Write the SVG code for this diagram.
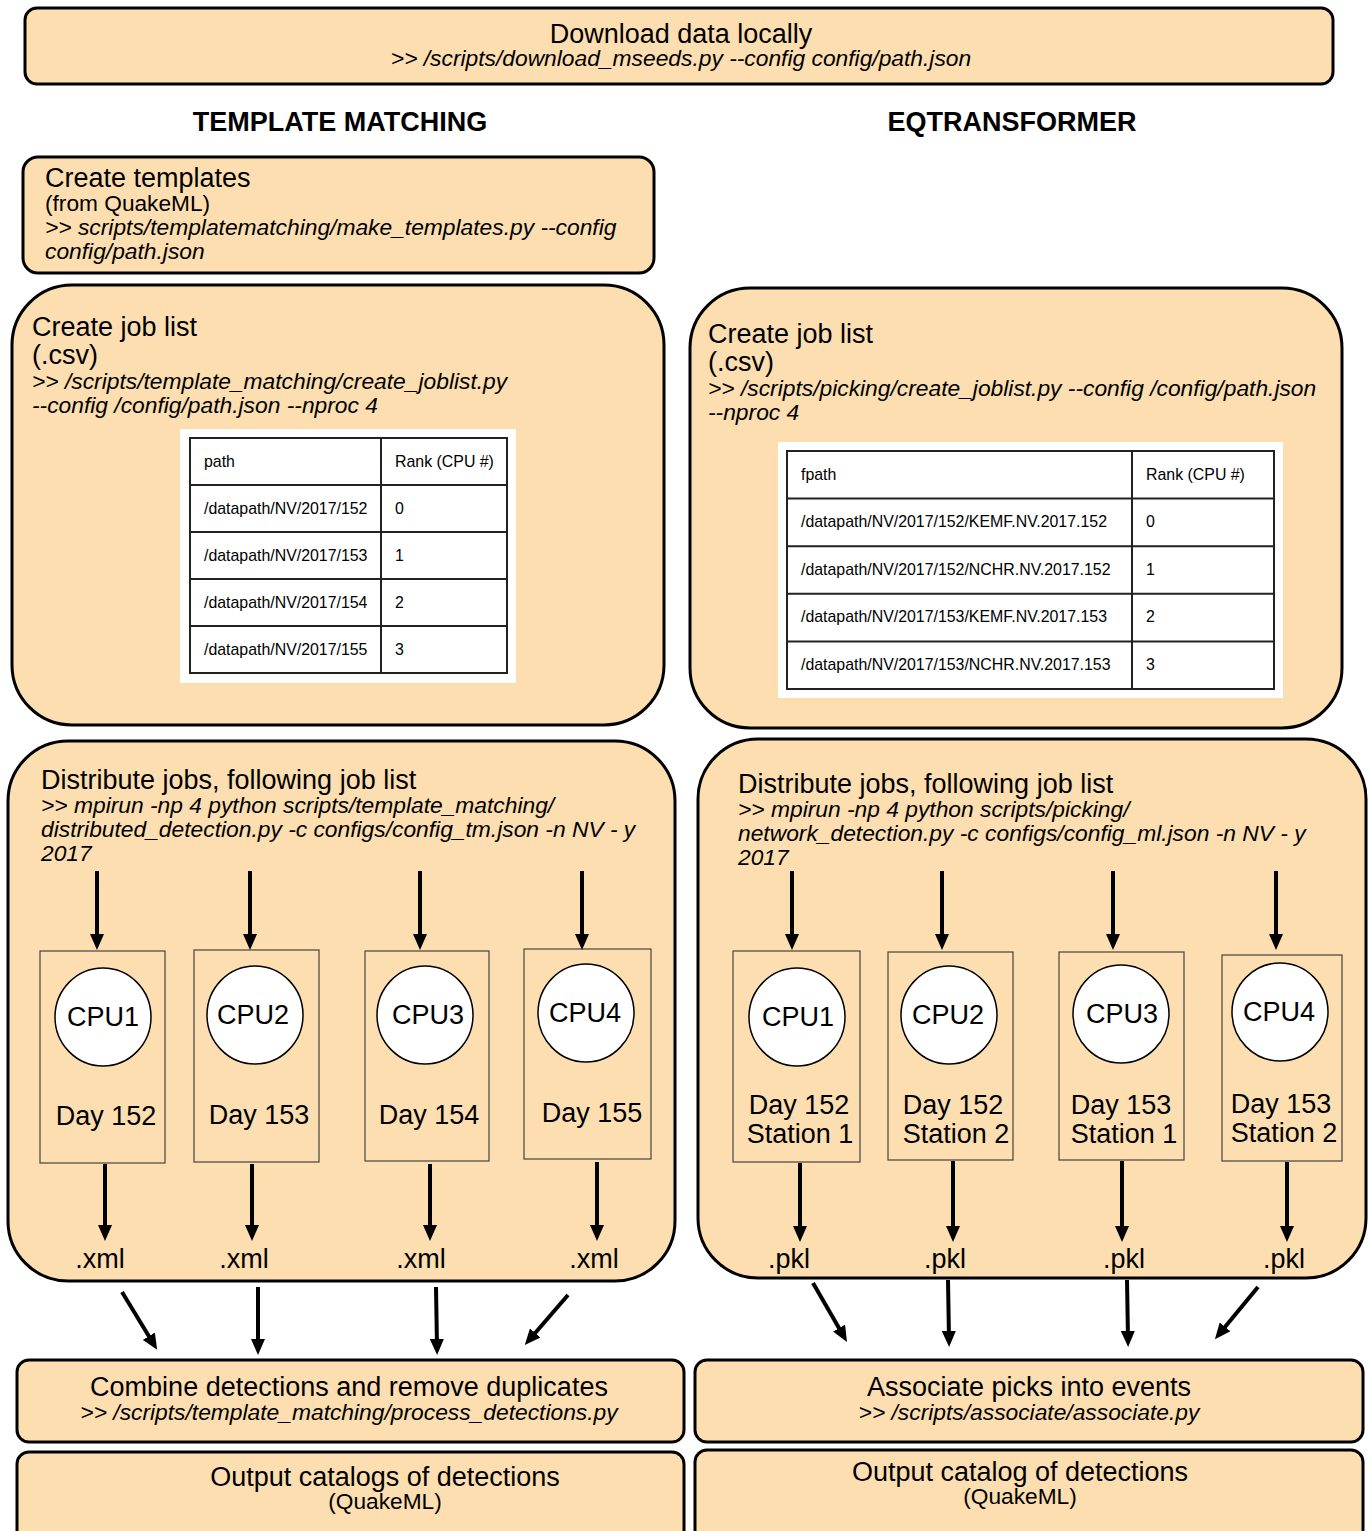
<svg xmlns="http://www.w3.org/2000/svg" width="1370" height="1531" viewBox="0 0 1370 1531">
<style>
.box{fill:#fcdeb0;stroke:#000;stroke-width:3}
.cpu{fill:none;stroke:#444;stroke-width:1.2}
.circ{fill:#fff;stroke:#000;stroke-width:1.5}
text{font-family:"Liberation Sans",Arial,sans-serif;fill:#000}
.t{font-size:27px}
.s{font-size:22.7px}
.i{font-size:22.8px;font-style:italic}
.h{font-size:27px;font-weight:bold}
.tb{font-size:15.9px}
.m{text-anchor:middle}
.tbl{fill:#fff;stroke:#222;stroke-width:2}
.grid{stroke:#222;stroke-width:2}
.ar{stroke:#000;stroke-width:4;fill:none;marker-end:url(#ah)}
</style>
<defs>
<marker id="ah" viewBox="0 0 10 10" refX="5" refY="5" markerWidth="4" markerHeight="3.5" orient="auto" preserveAspectRatio="none">
<path d="M0,0 L10,5 L0,10 z" fill="#000"/>
</marker>
</defs>
<rect width="1370" height="1531" fill="#fff"/>

<g id="download">
<rect class="box" x="25" y="8" width="1308" height="76" rx="12"/>
<text class="t m" x="681" y="43">Download data locally</text>
<text class="i m" x="681" y="66">&gt;&gt; /scripts/download_mseeds.py --config config/path.json</text>
</g>

<g id="hdr-tm"><text class="h m" x="340" y="131">TEMPLATE MATCHING</text></g>
<g id="hdr-eq"><text class="h m" x="1012" y="131">EQTRANSFORMER</text></g>

<g id="templates">
<rect class="box" x="23" y="157" width="631" height="116" rx="15"/>
<text class="t" x="45" y="187">Create templates</text>
<text class="s" x="45" y="211">(from QuakeML)</text>
<text class="i" x="45" y="235">&gt;&gt; scripts/templatematching/make_templates.py --config</text>
<text class="i" x="45" y="259">config/path.json</text>
</g>

<g id="joblist-tm">
<rect class="box" x="12" y="285" width="652" height="440" rx="60"/>
<text class="t" x="32" y="336">Create job list</text>
<text class="t" x="32" y="364">(.csv)</text>
<text class="i" x="32" y="389">&gt;&gt; /scripts/template_matching/create_joblist.py</text>
<text class="i" x="32" y="413">--config /config/path.json --nproc 4</text>
<rect x="180" y="429" width="336" height="254" fill="#fff"/>
<rect class="tbl" x="190" y="438" width="317" height="235"/>
<path class="grid" d="M381,438V673M190,485H507M190,532H507M190,579H507M190,626H507"/>
<text class="tb" x="204" y="467">path</text><text class="tb" x="395" y="467">Rank (CPU #)</text>
<text class="tb" x="204" y="514">/datapath/NV/2017/152</text><text class="tb" x="395" y="514">0</text>
<text class="tb" x="204" y="561">/datapath/NV/2017/153</text><text class="tb" x="395" y="561">1</text>
<text class="tb" x="204" y="608">/datapath/NV/2017/154</text><text class="tb" x="395" y="608">2</text>
<text class="tb" x="204" y="655">/datapath/NV/2017/155</text><text class="tb" x="395" y="655">3</text>
</g>

<g id="joblist-eq">
<rect class="box" x="690" y="288" width="652" height="440" rx="60"/>
<text class="t" x="708" y="343">Create job list</text>
<text class="t" x="708" y="371">(.csv)</text>
<text class="i" x="708" y="396">&gt;&gt; /scripts/picking/create_joblist.py --config /config/path.json</text>
<text class="i" x="708" y="420">--nproc 4</text>
<rect x="778" y="442" width="505" height="256" fill="#fff"/>
<rect class="tbl" x="787" y="451" width="487" height="238"/>
<path class="grid" d="M1132,451V689M787,498.6H1274M787,546.2H1274M787,593.8H1274M787,641.4H1274"/>
<text class="tb" x="801" y="480">fpath</text><text class="tb" x="1146" y="480">Rank (CPU #)</text>
<text class="tb" x="801" y="527">/datapath/NV/2017/152/KEMF.NV.2017.152</text><text class="tb" x="1146" y="527">0</text>
<text class="tb" x="801" y="575">/datapath/NV/2017/152/NCHR.NV.2017.152</text><text class="tb" x="1146" y="575">1</text>
<text class="tb" x="801" y="622">/datapath/NV/2017/153/KEMF.NV.2017.153</text><text class="tb" x="1146" y="622">2</text>
<text class="tb" x="801" y="670">/datapath/NV/2017/153/NCHR.NV.2017.153</text><text class="tb" x="1146" y="670">3</text>
</g>

<g id="distribute-tm">
<rect class="box" x="8" y="741" width="667" height="540" rx="60"/>
<text class="t" x="41" y="789">Distribute jobs, following job list</text>
<text class="i" x="41" y="813">&gt;&gt; mpirun -np 4 python scripts/template_matching/</text>
<text class="i" x="41" y="837">distributed_detection.py -c configs/config_tm.json -n NV - y</text>
<text class="i" x="41" y="861">2017</text>
</g>
<g id="tm-cpu1">
<rect class="cpu" x="40" y="951" width="125" height="212"/>
<ellipse class="circ" cx="103" cy="1017" rx="48" ry="49"/>
<text class="t m" x="103" y="1026">CPU1</text>
<text class="t m" x="106" y="1125">Day 152</text>
</g>
<g id="tm-cpu2">
<rect class="cpu" x="194" y="950" width="125" height="212"/>
<ellipse class="circ" cx="255" cy="1015" rx="48" ry="49"/>
<text class="t m" x="253" y="1024">CPU2</text>
<text class="t m" x="259" y="1124">Day 153</text>
</g>
<g id="tm-cpu3">
<rect class="cpu" x="365" y="951" width="124" height="210"/>
<ellipse class="circ" cx="425" cy="1015" rx="48" ry="49"/>
<text class="t m" x="428" y="1024">CPU3</text>
<text class="t m" x="429" y="1124">Day 154</text>
</g>
<g id="tm-cpu4">
<rect class="cpu" x="524" y="949" width="127" height="210"/>
<ellipse class="circ" cx="586" cy="1013" rx="48" ry="49"/>
<text class="t m" x="585" y="1022">CPU4</text>
<text class="t m" x="592" y="1122">Day 155</text>
</g>
<g id="tm-out">
<text class="t m" x="100" y="1268">.xml</text>
<text class="t m" x="244" y="1268">.xml</text>
<text class="t m" x="421" y="1268">.xml</text>
<text class="t m" x="594" y="1268">.xml</text>
</g>

<g id="distribute-eq">
<rect class="box" x="698" y="739" width="668" height="539" rx="60"/>
<text class="t" x="738" y="793">Distribute jobs, following job list</text>
<text class="i" x="738" y="817">&gt;&gt; mpirun -np 4 python scripts/picking/</text>
<text class="i" x="738" y="841">network_detection.py -c configs/config_ml.json -n NV - y</text>
<text class="i" x="738" y="865">2017</text>
</g>
<g id="eq-cpu1">
<rect class="cpu" x="733" y="951" width="127" height="211"/>
<ellipse class="circ" cx="797" cy="1017" rx="48" ry="49"/>
<text class="t m" x="798" y="1026">CPU1</text>
<text class="t m" x="799" y="1114">Day 152</text>
<text class="t m" x="800" y="1143">Station 1</text>
</g>
<g id="eq-cpu2">
<rect class="cpu" x="888" y="952" width="125" height="208"/>
<ellipse class="circ" cx="949" cy="1015" rx="48" ry="49"/>
<text class="t m" x="948" y="1024">CPU2</text>
<text class="t m" x="953" y="1114">Day 152</text>
<text class="t m" x="956" y="1143">Station 2</text>
</g>
<g id="eq-cpu3">
<rect class="cpu" x="1059" y="952" width="125" height="208"/>
<ellipse class="circ" cx="1121" cy="1014" rx="48" ry="49"/>
<text class="t m" x="1122" y="1023">CPU3</text>
<text class="t m" x="1121" y="1114">Day 153</text>
<text class="t m" x="1124" y="1143">Station 1</text>
</g>
<g id="eq-cpu4">
<rect class="cpu" x="1222" y="955" width="120" height="206"/>
<ellipse class="circ" cx="1280" cy="1012" rx="48" ry="49"/>
<text class="t m" x="1279" y="1021">CPU4</text>
<text class="t m" x="1281" y="1113">Day 153</text>
<text class="t m" x="1284" y="1142">Station 2</text>
</g>
<g id="eq-out">
<text class="t m" x="789" y="1268">.pkl</text>
<text class="t m" x="945" y="1268">.pkl</text>
<text class="t m" x="1124" y="1268">.pkl</text>
<text class="t m" x="1284" y="1268">.pkl</text>
</g>

<g id="combine">
<rect class="box" x="17" y="1360" width="667" height="82" rx="12"/>
<text class="t m" x="349" y="1396">Combine detections and remove duplicates</text>
<text class="i m" x="349" y="1420">&gt;&gt; /scripts/template_matching/process_detections.py</text>
</g>
<g id="associate">
<rect class="box" x="695" y="1360" width="668" height="82" rx="12"/>
<text class="t m" x="1029" y="1396">Associate picks into events</text>
<text class="i m" x="1029" y="1420">&gt;&gt; /scripts/associate/associate.py</text>
</g>
<g id="output-tm">
<rect class="box" x="17" y="1452" width="667" height="100" rx="12"/>
<text class="t m" x="385" y="1486">Output catalogs of detections</text>
<text class="s m" x="385" y="1509">(QuakeML)</text>
</g>
<g id="output-eq">
<rect class="box" x="695" y="1450" width="668" height="100" rx="12"/>
<text class="t m" x="1020" y="1481">Output catalog of detections</text>
<text class="s m" x="1020" y="1504">(QuakeML)</text>
</g>

<g id="connectors">
<line class="ar" x1="97" y1="871" x2="97" y2="942"/>
<line class="ar" x1="250" y1="871" x2="250" y2="942"/>
<line class="ar" x1="420" y1="871" x2="420" y2="942"/>
<line class="ar" x1="582" y1="871" x2="582" y2="942"/>
<line class="ar" x1="105" y1="1164" x2="105" y2="1233"/>
<line class="ar" x1="252" y1="1164" x2="252" y2="1233"/>
<line class="ar" x1="430" y1="1164" x2="430" y2="1233"/>
<line class="ar" x1="597" y1="1162" x2="597" y2="1233"/>
<line class="ar" x1="792" y1="871" x2="792" y2="942"/>
<line class="ar" x1="942" y1="871" x2="942" y2="942"/>
<line class="ar" x1="1113" y1="871" x2="1113" y2="942"/>
<line class="ar" x1="1276" y1="871" x2="1276" y2="942"/>
<line class="ar" x1="800" y1="1163" x2="800" y2="1234"/>
<line class="ar" x1="953" y1="1161" x2="953" y2="1234"/>
<line class="ar" x1="1122" y1="1161" x2="1122" y2="1234"/>
<line class="ar" x1="1287" y1="1162" x2="1287" y2="1234"/>
<line class="ar" x1="122" y1="1292" x2="153" y2="1343"/>
<line class="ar" x1="258" y1="1287" x2="258" y2="1347"/>
<line class="ar" x1="436" y1="1287" x2="437" y2="1347"/>
<line class="ar" x1="568" y1="1295" x2="530" y2="1339"/>
<line class="ar" x1="813" y1="1283" x2="843" y2="1335"/>
<line class="ar" x1="948" y1="1280" x2="949" y2="1339"/>
<line class="ar" x1="1127" y1="1280" x2="1128" y2="1339"/>
<line class="ar" x1="1258" y1="1287" x2="1220" y2="1333"/>
</g>
</svg>
